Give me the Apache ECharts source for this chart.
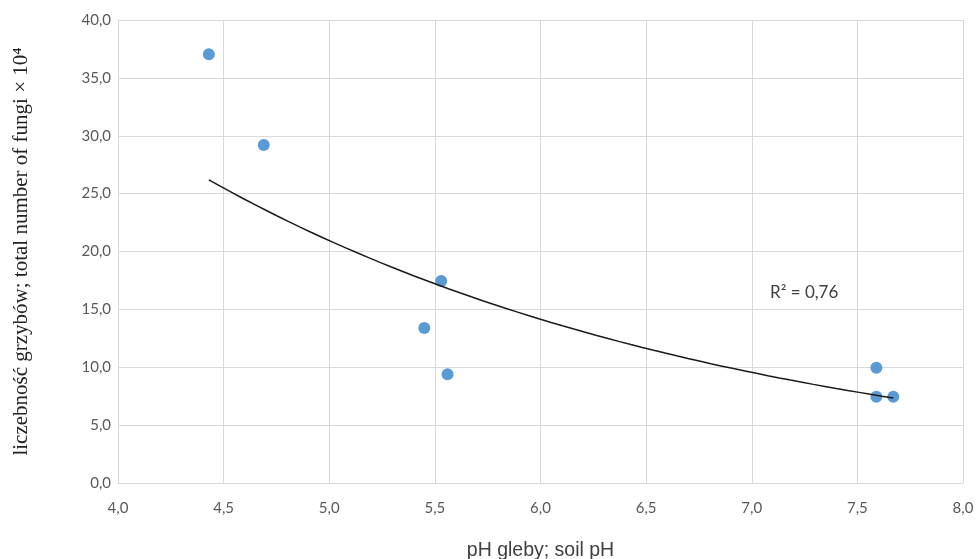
<!DOCTYPE html>
<html>
<head>
<meta charset="utf-8">
<script src="https://cdn.jsdelivr.net/npm/echarts@6/dist/echarts.min.js"></script>
<style>html,body{margin:0;padding:0;background:#fff;overflow:hidden}#c{width:978px;height:559px}</style>
</head>
<body>
<div id="c"></div>
<script>
const soilPH = [4.43, 4.69, 5.53, 5.45, 5.56, 7.59, 7.59, 7.67];
const fungi = [37.05, 29.2, 17.45, 13.4, 9.4, 9.95, 7.45, 7.45];
const xTicks = [4.0, 8.0, 0.5];
const yTicks = [0, 40, 5];
const xName = 'pH gleby; soil pH';
const yName = 'liczebność grzybów; total number of fungi × 10⁴';
const r2Text = 'R² = 0,76';

// exponential trendline fitted from the data (least squares on ln y)
const n = soilPH.length;
const lny = fungi.map(Math.log);
const mx = soilPH.reduce((a,b)=>a+b,0)/n;
const my = lny.reduce((a,b)=>a+b,0)/n;
let sxy=0,sxx=0;
for(let i=0;i<n;i++){sxy+=(soilPH[i]-mx)*(lny[i]-my);sxx+=(soilPH[i]-mx)**2;}
const b = sxy/sxx, lnA = my - b*mx;
const xmin = Math.min(...soilPH), xmax = Math.max(...soilPH);
const trend = [];
for(let i=0;i<=60;i++){const x=xmin+(xmax-xmin)*i/60;trend.push([x,Math.exp(lnA+b*x)]);}

const fmt = v => v.toFixed(1).replace('.', ',');
const chart = echarts.init(document.getElementById('c'));
chart.setOption({
  animation:false,
  grid:{left:118,right:15,top:20,bottom:76,outerBoundsMode:'none',containLabel:false},
  xAxis:{type:'value',min:xTicks[0],max:xTicks[1],interval:xTicks[2],
    name:xName,nameLocation:'middle',nameGap:58,
    nameTextStyle:{fontFamily:'Liberation Sans',fontSize:19.5,color:'#404040'},
    axisLine:{lineStyle:{color:'#d9d9d9'}},axisTick:{show:false},
    axisLabel:{formatter:fmt,margin:18,fontFamily:'Lato',fontSize:15,color:'#595959'},
    splitLine:{lineStyle:{color:'#d9d9d9'}}},
  yAxis:{type:'value',min:yTicks[0],max:yTicks[1],interval:yTicks[2],
    name:yName,nameLocation:'middle',nameGap:86,nameRotate:90,
    nameTextStyle:{fontFamily:'Liberation Serif',fontSize:21,color:'#222'},
    axisLine:{show:true,lineStyle:{color:'#d9d9d9'}},axisTick:{show:false},
    axisLabel:{formatter:fmt,margin:7,fontFamily:'Lato',fontSize:15,color:'#595959'},
    splitLine:{lineStyle:{color:'#d9d9d9'}}},
  series:[
    {type:'line',data:trend,showSymbol:false,smooth:false,
      lineStyle:{color:'#1a1a1a',width:1.5},z:3},
    {type:'scatter',data:soilPH.map((x,i)=>[x,fungi[i]]),symbolSize:12,
      itemStyle:{color:'#5b9bd5',opacity:1},z:2}
  ],
  graphic:[{type:'text',left:770,top:284,style:{text:r2Text,font:'17px Lato',fill:'#404040'}}]
});
</script>
</body>
</html>
